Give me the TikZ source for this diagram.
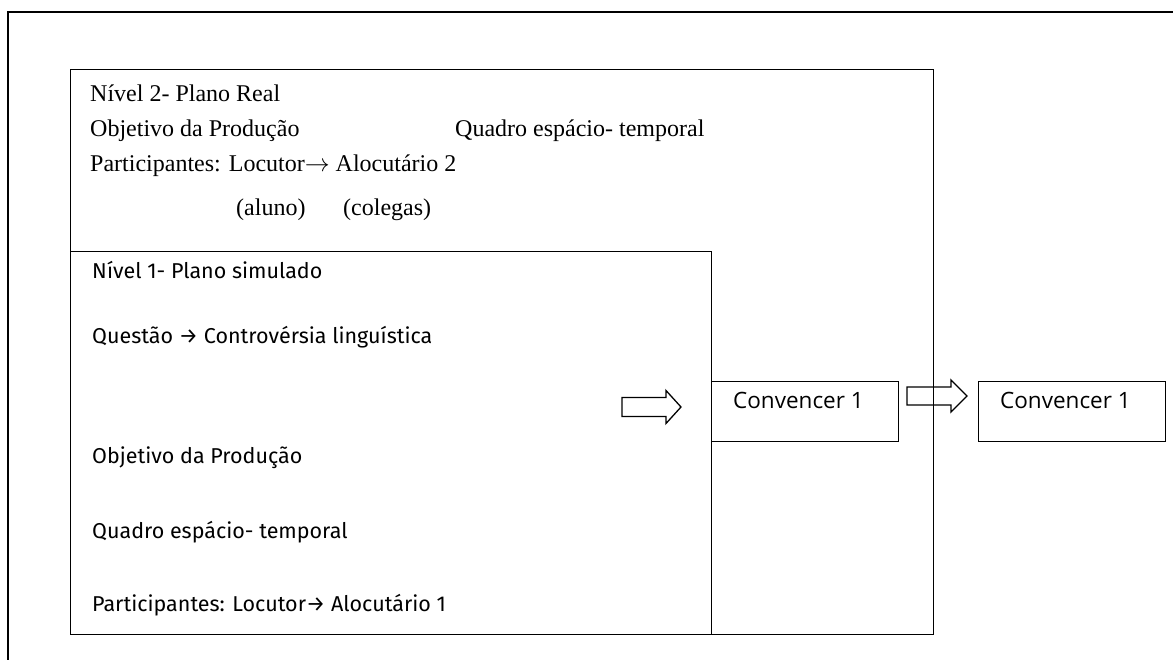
\documentclass[tikz,border=0pt]{standalone}
\usepackage{fontspec}
\setmainfont{Liberation Serif}
\newfontfamily\levelsans{Fira Sans}
\newfontfamily\convsans{Open Sans}
\begin{document}
\begin{tikzpicture}[x=1pt,y=-1pt,
  frame/.style={draw=black, line width=1.3pt},
  boxrect/.style={draw=black, line width=1.3pt, rectangle, inner sep=0pt, anchor=north west},
  sertext/.style={anchor=mid west, inner sep=0pt, font=\fontsize{24}{28}\selectfont},
  santext/.style={anchor=mid west, inner sep=0pt, font=\levelsans\fontsize{21.5}{25}\selectfont},
  convtext/.style={anchor=mid west, inner sep=0pt, font=\convsans\fontsize{22.5}{26}\selectfont},
  blockarrow/.style={draw=black, line width=1.3pt, line join=miter}
]
\useasboundingbox (0,0) rectangle (1173,660);
% outer frame (only top and left edges visible)
\draw[frame] (8,662) -- (8,12) -- (1175,12);

% level boxes
\node[boxrect, minimum width=863pt, minimum height=565pt] (lvl2) at (70,69) {};
\node[boxrect, minimum width=641pt, minimum height=383pt] (lvl1) at (70,251) {};

% Convencer boxes
\node[boxrect, minimum width=187pt, minimum height=60pt] (conv1) at (711,381) {};
\node[boxrect, minimum width=187pt, minimum height=60pt] (conv2) at (978,381) {};
\node[convtext] (conv1txt) at (733,406) {Convencer 1};
\node[convtext] (conv2txt) at (1000,406) {Convencer 1};

% level 2 texts
\node[sertext] (n2title) at (90,99) {Nível 2- Plano Real};
\node[sertext] (n2obj) at (90,134) {Objetivo da Produção};
\node[sertext] (n2quad) at (455,134) {Quadro espácio- temporal};
\node[sertext] (n2part) at (90,169) {Participantes: Locutor$\rightarrow$ Alocutário 2};
\node[sertext] (n2aluno) at (236,213) {(aluno)};
\node[sertext] (n2coleg) at (343,213) {(colegas)};

% level 1 texts
\node[santext] (n1title) at (92,276) {Nível 1- Plano simulado};
\node[santext] (n1quest) at (92,341) {Questão → Controvérsia linguística};
\node[santext] (n1obj) at (92,461) {Objetivo da Produção};
\node[santext] (n1quad) at (92,536) {Quadro espácio- temporal};
\node[santext] (n1part) at (92,609) {Participantes: Locutor→ Alocutário 1};

% block arrows
\draw[blockarrow] (622,397.5) -- (666,397.5) -- (666,390.5) -- (681,407) -- (666,423.5) -- (666,416.5) -- (622,416.5) -- cycle;
\draw[blockarrow] (907,387) -- (951,387) -- (951,380) -- (967,396) -- (951,412) -- (951,405) -- (907,405) -- cycle;
\end{tikzpicture}
\end{document}
